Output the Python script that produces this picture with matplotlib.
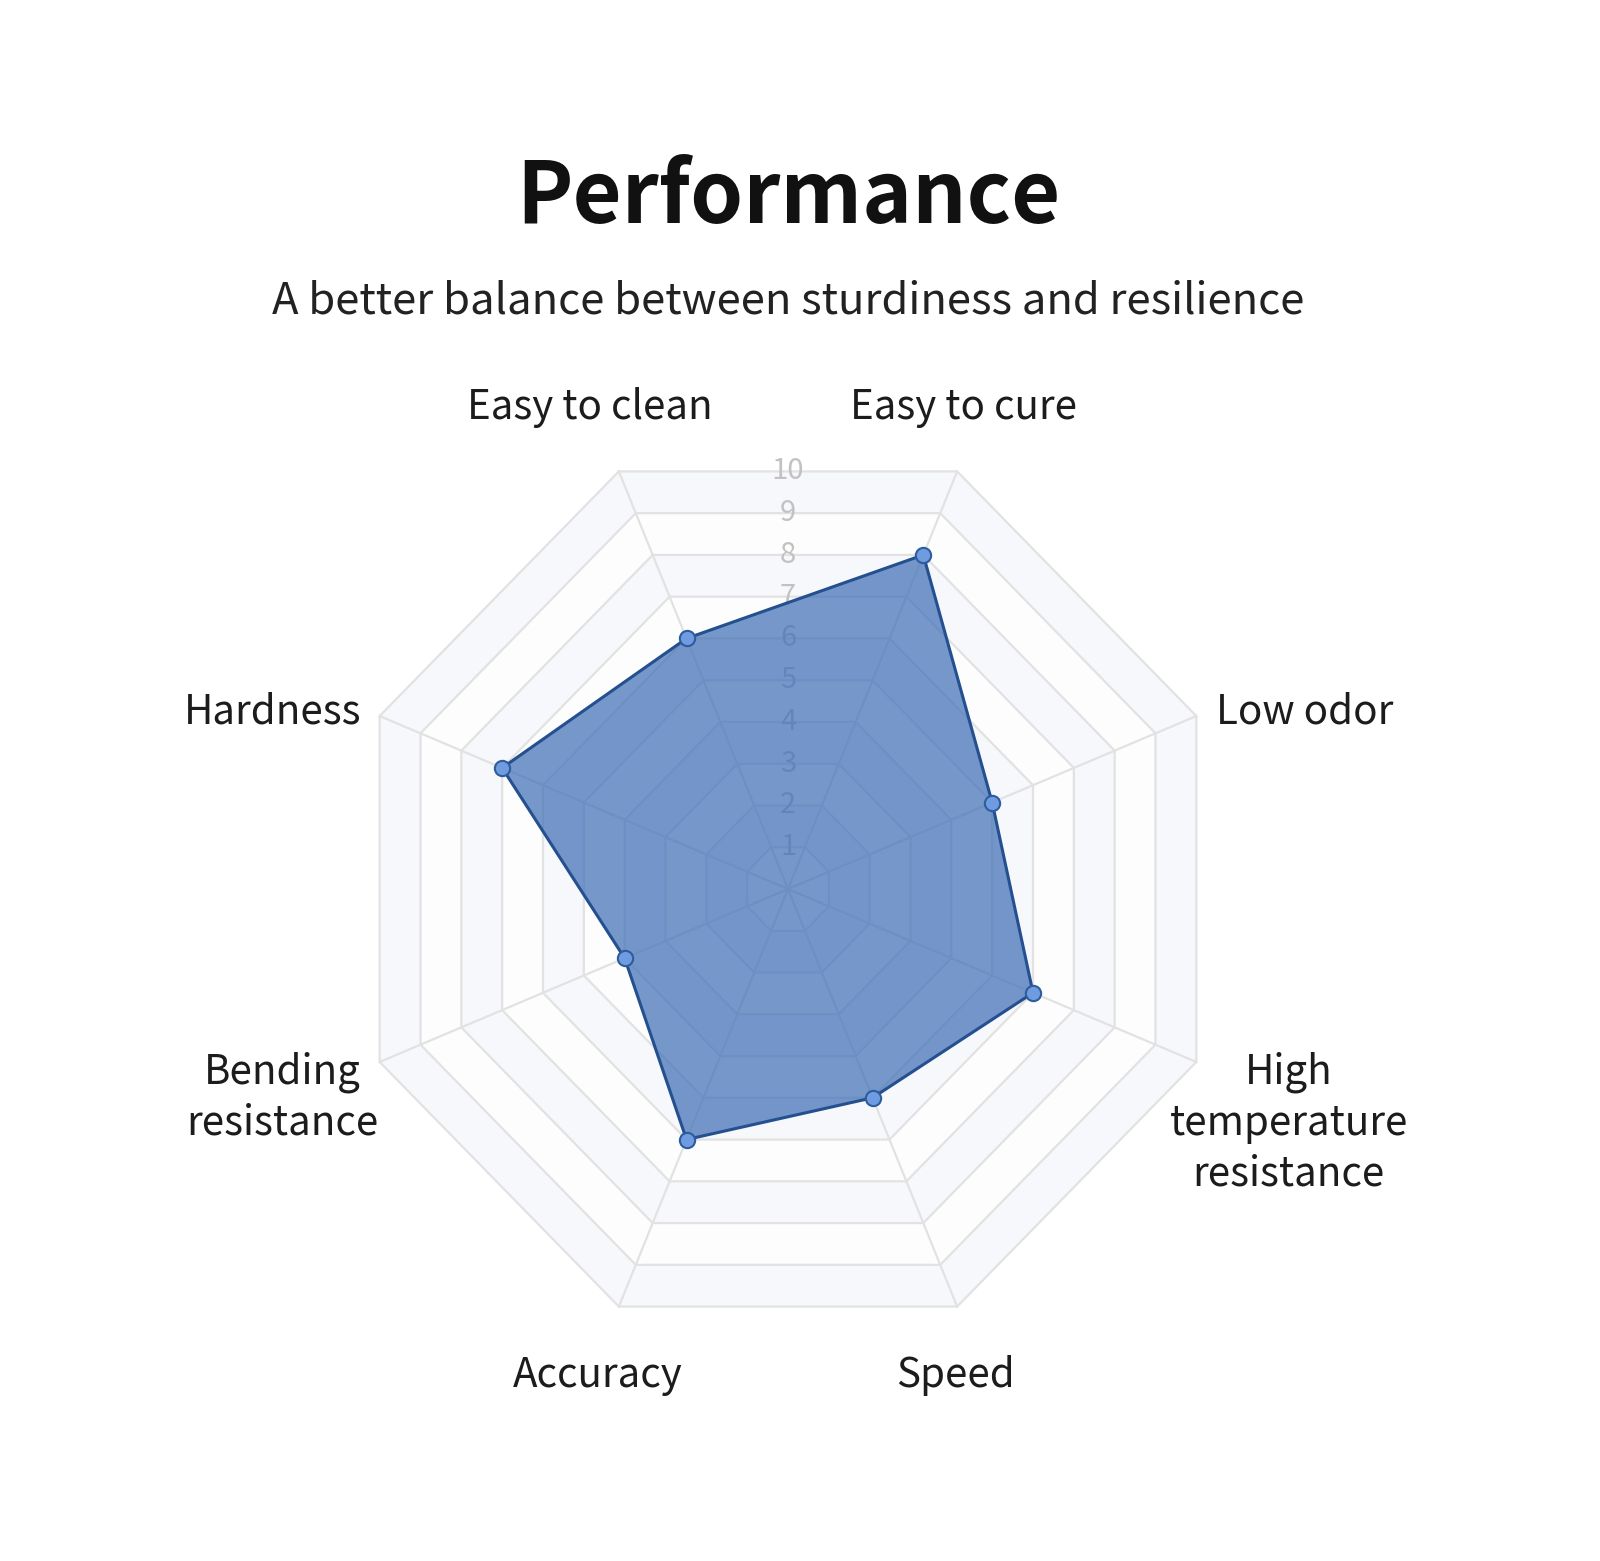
import numpy as np
import matplotlib
matplotlib.use('Agg')
import matplotlib.pyplot as plt

plt.rcParams['font.family'] = ['Noto Sans CJK SC', 'DejaVu Sans']

# data
categories = ['Easy to clean', 'Easy to cure', 'Low odor', 'High\ntemperature\nresistance',
              'Speed', 'Accuracy', 'Bending\nresistance', 'Hardness']
angles_deg = [112.5, 67.5, 22.5, -22.5, -67.5, -112.5, -157.5, 157.5]
values = [6, 8, 5, 6, 5, 6, 4, 7]
ring_levels = list(range(1, 11))
max_value = 10

# layout (pixels)
W, H = 1600, 1561
cx, cy = 788, 889          # centre of the radar, from top-left
unit_x = 44.2              # px per value unit
unit_y = 45.2              # reference is a bit taller than wide
label_x = [-4.48, 3.98, 11.70, 11.33, 3.78, -4.30, -11.43, -11.65]
label_y = [10.66, 10.66, 3.92, -5.18, -10.77, -10.77, -4.62, 3.92]

fig = plt.figure(figsize=(W / 100, H / 100), dpi=100)
fig.patch.set_facecolor('white')
ax = fig.add_axes([0, 0, 1, 1])
ax.set_xlim(-cx / unit_x, (W - cx) / unit_x)
ax.set_ylim(-(H - cy) / unit_y, cy / unit_y)
ax.set_aspect(unit_y / unit_x)
ax.axis('off')

theta = np.deg2rad(angles_deg)
ux, uy = np.cos(theta), np.sin(theta)


def ring(r):
    return np.append(ux * r, ux[0] * r), np.append(uy * r, uy[0] * r)


# split areas
band_colors = ['#f6f8fc', '#fdfdfe']
for i, lvl in enumerate(reversed(ring_levels)):
    x, y = ring(lvl)
    ax.fill(x, y, color=band_colors[i % 2], lw=0, zorder=1)

# grid rings and spokes
for lvl in ring_levels:
    x, y = ring(lvl)
    ax.plot(x, y, color='#e2e2e2', lw=1.6, zorder=2)
for i in range(len(categories)):
    ax.plot([0, ux[i] * max_value], [0, uy[i] * max_value], color='#e2e2e2', lw=1.6, zorder=2)

# ring value labels along vertical axis
apothem = np.cos(np.deg2rad(22.5))
for lvl in ring_levels:
    ax.text(0, lvl * apothem, str(lvl), ha='center', va='center', fontsize=21,
            color='#c2c2c2', fontweight='light', zorder=3)

# data polygon
vx = ux * np.array(values)
vy = uy * np.array(values)
ax.fill(np.append(vx, vx[0]), np.append(vy, vy[0]), color='#3c6cb4', alpha=0.7, lw=0, zorder=4)
ax.plot(np.append(vx, vx[0]), np.append(vy, vy[0]), color='#24508f', lw=2.2, zorder=5)
ax.plot(vx, vy, 'o', ms=11, mfc='#6f9be0', mec='#2f5c9c', mew=1.5, zorder=6)

# category labels
for i, name in enumerate(categories):
    ax.text(label_x[i], label_y[i], name, ha='center', va='center',
            fontsize=29, color='#1c1c1c', linespacing=1.3)

fig.text(cx / W, 1 - 198 / H, 'Performance', ha='center', va='center',
         fontsize=61, fontweight='bold', color='#111111')
fig.text(cx / W, 1 - 302 / H, 'A better balance between sturdiness and resilience',
         ha='center', va='center', fontsize=31.4, color='#222222')

fig.savefig('out.png', dpi=100, facecolor='white')
